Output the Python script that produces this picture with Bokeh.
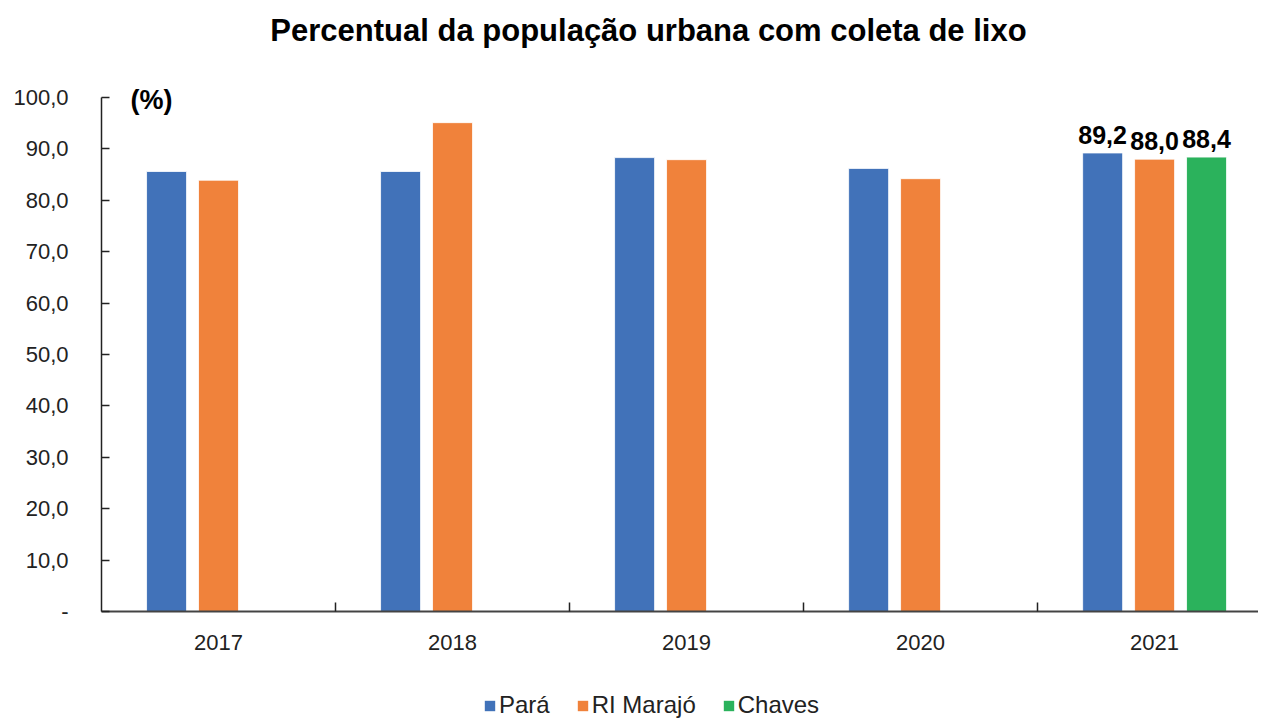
import numpy as np
from bokeh.plotting import figure
from bokeh.layouts import column
from bokeh.models import (ColumnDataSource, Range1d, FixedTicker, CustomJSTickFormatter,
                          Legend, LegendItem, Label)
from bokeh.embed import file_html
from bokeh.resources import INLINE

years = ["2017", "2018", "2019", "2020", "2021"]
para = [85.6, 85.6, 88.3, 86.2, 89.2]
ri_marajo = [83.9, 95.1, 87.9, 84.2, 88.0]
chaves = [np.nan, np.nan, np.nan, np.nan, 88.4]
series_names = ["Pará", "RI Marajó", "Chaves"]
colors = ["#4172B9", "#F0823B", "#2BB25C"]
y_ticks = [0, 10, 20, 30, 40, 50, 60, 70, 80, 90, 100]
title_text = "Percentual da população urbana com coleta de lixo"

FONT = "Liberation Sans"

# ---- title strip ----
pt = figure(width=1258, height=60, output_backend="svg", toolbar_location=None,
            x_range=Range1d(101, 1258), y_range=Range1d(0, 60),
            x_axis_type=None, y_axis_type=None,
            min_border_left=0, min_border_right=0, min_border_top=0, min_border_bottom=0)
pt.outline_line_color = None
pt.xgrid.visible = False
pt.ygrid.visible = False
pt.add_layout(Label(x=648, y=30, text=title_text, text_align="center", text_baseline="middle",
                    text_font=FONT, text_font_size="31px", text_font_style="bold",
                    text_color="#000000"))

# ---- main chart ----
p = figure(frame_width=1157, frame_height=531, output_backend="svg", toolbar_location=None,
           x_range=Range1d(0, 4.944), y_range=Range1d(0, 103.3),
           min_border_left=101, min_border_right=0, min_border_top=20, min_border_bottom=50)
p.outline_line_color = None
p.xgrid.visible = False
p.ygrid.visible = False
p.background_fill_color = "white"

centers = np.arange(len(years)) + 0.5
offsets = [-0.222, 0.0, 0.222]
bw = 0.171
sources = []
for vals, off, col in zip([para, ri_marajo, chaves], offsets, colors):
    v = np.array(vals, dtype=float)
    m = ~np.isnan(v)
    src = ColumnDataSource(dict(x=(centers + off)[m], top=v[m]))
    sources.append(src)
    p.vbar(x="x", top="top", width=bw, bottom=0, source=src,
           fill_color=col, line_color="white", line_width=0.8)

# data labels for 2021
last = len(years) - 1
for vals, off in zip([para, ri_marajo, chaves], offsets):
    val = vals[last]
    p.add_layout(Label(x=centers[last] + off, y=val, y_offset=9,
                       text=f"{val:.1f}".replace(".", ","), text_align="center",
                       text_baseline="bottom", text_font=FONT, text_font_size="25px",
                       text_font_style="bold", text_color="#000000"))

p.add_layout(Label(x=0.124, y=99.6, text="(%)", text_align="left", text_baseline="middle",
                   text_font=FONT, text_font_size="27px", text_font_style="bold",
                   text_color="#000000"))

# y axis
ya = p.yaxis[0]
ya.bounds = (0, 100)
ya.ticker = FixedTicker(ticks=y_ticks)
ya.formatter = CustomJSTickFormatter(code="""
    if (Math.abs(tick) < 1e-9) { return "-"; }
    return tick.toFixed(1).replace(".", ",");
""")
ya.major_tick_in = 8
ya.major_tick_out = 0
ya.minor_tick_in = 0
ya.minor_tick_out = 0
ya.major_label_standoff = 33
ya.major_label_text_font = FONT
ya.major_label_text_font_size = "22px"
ya.major_label_text_color = "#222222"
ya.axis_line_color = "#222222"
ya.axis_line_width = 1.5
ya.major_tick_line_color = "#222222"
ya.major_tick_line_width = 1.5

# x axis
xa = p.xaxis[0]
xa.ticker = FixedTicker(ticks=list(centers), minor_ticks=[1, 2, 3, 4])
xa.formatter = CustomJSTickFormatter(args=dict(labels=years), code="""
    return labels[Math.floor(tick)];
""")
xa.major_tick_in = 0
xa.major_tick_out = 0
xa.minor_tick_in = 9
xa.minor_tick_out = 0
xa.minor_tick_line_color = "#222222"
xa.minor_tick_line_width = 1.5
xa.major_label_standoff = 23
xa.major_label_text_font = FONT
xa.major_label_text_font_size = "22px"
xa.major_label_text_color = "#222222"
xa.axis_line_color = "#444444"
xa.axis_line_width = 2

# ---- legend strip below the chart (same series sources, bars kept out of view) ----
pl = figure(width=1258, height=58, output_backend="svg", toolbar_location=None,
            x_range=Range1d(-20, -19), y_range=Range1d(0, 1),
            x_axis_type=None, y_axis_type=None,
            min_border_left=0, min_border_right=0, min_border_top=0, min_border_bottom=0)
pl.outline_line_color = None
pl.xgrid.visible = False
pl.ygrid.visible = False
leg_renderers = []
for src, col in zip(sources, colors):
    r = pl.vbar(x="x", top="top", width=bw, bottom=0, source=src,
                fill_color=col, line_color=None)
    leg_renderers.append(r)

legend = Legend(items=[LegendItem(label=n, renderers=[r]) for n, r in zip(series_names, leg_renderers)],
                orientation="horizontal", location=(382, 0),
                label_text_font=FONT, label_text_font_size="24px", label_text_color="#222222",
                glyph_width=13, glyph_height=13, label_standoff=3, spacing=26,
                padding=0, margin=0, border_line_color=None, background_fill_alpha=0)
pl.add_layout(legend, "center")

layout = column(pt, p, pl, spacing=0)
open("out.html", "w").write(file_html(layout, INLINE))
